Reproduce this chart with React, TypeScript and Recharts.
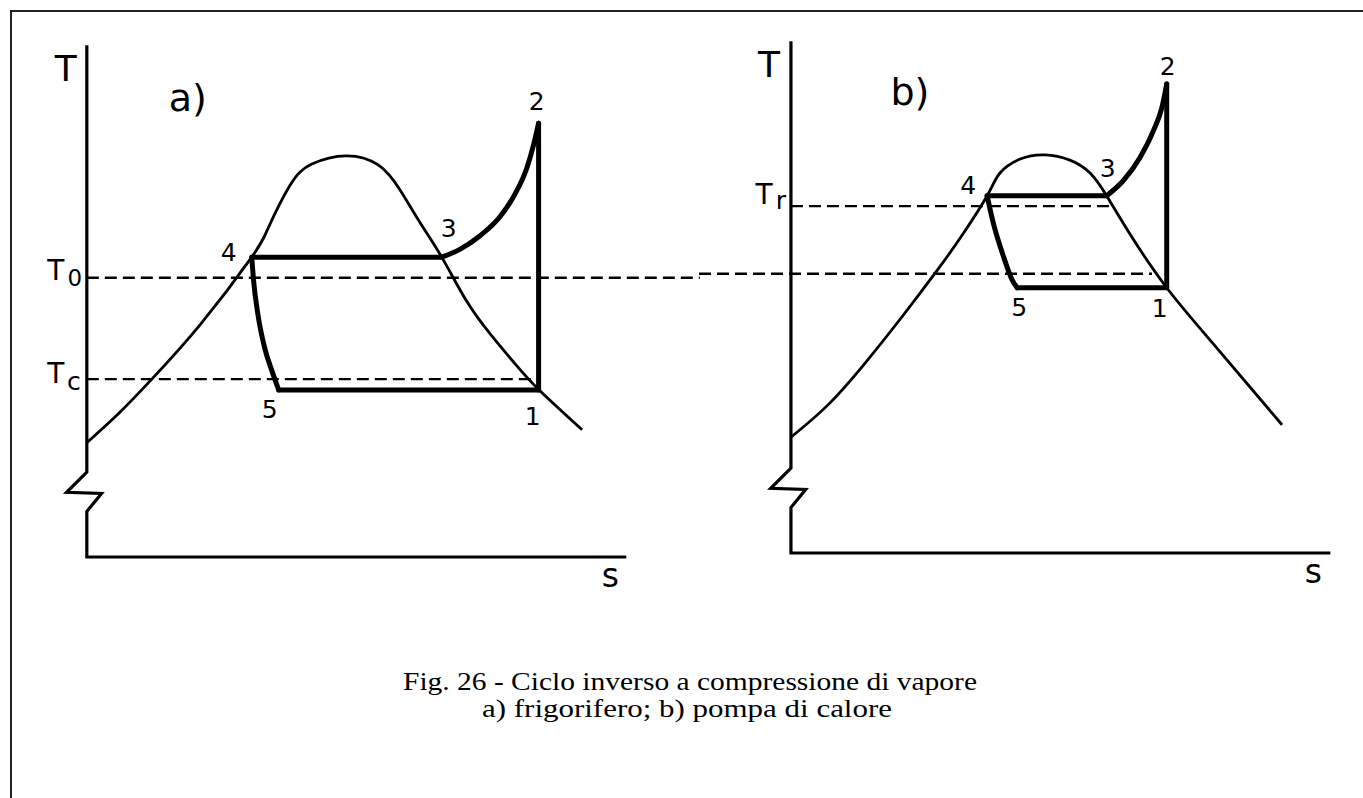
import React from 'react';
import { LineChart, Line, XAxis, YAxis, ReferenceDot } from 'recharts';

type Pt = { s: number; T: number };
type State = { n: string; s: number; T: number };

const pts = (rows: number[][]): Pt[] => rows.map(([s, T]) => ({ s, T }));

// both diagrams use one scale: pixels per unit of entropy s and of temperature T
const PX_S = 6.13;
const PX_T = 5.17;
const T_MIN = -10;
const T_MAX = 100;

// T and s axes as one polyline, with the break mark on the T axis
const axisFrame = pts([[0, 99], [0, 16.4], [-3.3, 12.5], [2.4, 12.3], [0, 8.8], [0, 0], [88, 0]]);

// ambient temperature, shared by the two cycles
const T0 = 54;

// a) frigorifero
const domeA = pts([
  [0, 22.1], [5.4, 28.0], [10.6, 34.4], [18.6, 45.1], [26.9, 58.0], [29.5, 63.4], [33.1, 71.8],
  [36.7, 76.0], [42.3, 77.6], [47.6, 75.8], [51.1, 71.0], [54.3, 64.8], [57.9, 58.0],
  [61.9, 49.6], [65.9, 43.0], [69.9, 37.3], [73.7, 32.4], [80.8, 24.6],
]);
const statesA: State[] = [
  { n: '1', s: 73.7, T: 32.3 },
  { n: '2', s: 73.7, T: 83.9 },
  { n: '3', s: 57.9, T: 58.0 },
  { n: '4', s: 26.9, T: 58.0 },
  { n: '5', s: 31.3, T: 32.3 },
];
const superheatA = pts([[60.85, 59.5], [64.1, 62.1], [67.4, 65.8], [69.8, 70.1], [71.8, 75.3], [72.9, 79.8]]);
const throttleA = pts([[27.2, 53.5], [27.9, 47.0], [29.0, 40.5], [30.2, 36.0]]);
const TcA = 34.4;
const TcEndA = 72.6;

// b) pompa di calore
const domeB = pts([
  [0, 22.4], [6, 28.6], [12, 36.6], [18, 45.5], [24, 54.9], [28, 61.6], [32.0, 69.1],
  [34.1, 73.5], [37.4, 76.2], [41.4, 77.0], [45.5, 76.0], [48.8, 73.5], [51.5, 69.1],
  [55.3, 61.7], [61.3, 51.3], [68.8, 40.6], [80.1, 24.8],
]);
const statesB: State[] = [
  { n: '1', s: 61.3, T: 51.3 },
  { n: '2', s: 61.3, T: 90.7 },
  { n: '3', s: 51.5, T: 69.1 },
  { n: '4', s: 32.0, T: 69.1 },
  { n: '5', s: 36.9, T: 51.3 },
];
const superheatB = pts([[54.2, 72.0], [56.9, 76.4], [59.1, 81.6], [60.5, 86.1]]);
const throttleB = pts([[33.1, 63.4], [34.6, 57.6], [36.1, 52.8]]);
const TrB = 67.1;
const TrEndB = 52.0;
const T0EndB = 58.9;

const at = (st: State[], n: string): Pt => {
  const p = st.find((q) => q.n === n)!;
  return { s: p.s, T: p.T };
};

// the five legs of the cycle, built from the state points
const cycleLegs = (st: State[], superheat: Pt[], throttle: Pt[]) => [
  { id: 'compressione', type: 'linear', data: [at(st, '1'), at(st, '2')] },
  { id: 'desurriscaldamento', type: 'monotone', data: [at(st, '3'), ...superheat, at(st, '2')] },
  { id: 'condensazione', type: 'linear', data: [at(st, '4'), at(st, '3')] },
  { id: 'laminazione', type: 'monotone', data: [at(st, '4'), ...throttle, at(st, '5')] },
  { id: 'evaporazione', type: 'linear', data: [at(st, '5'), at(st, '1')] },
];

const FONT = "'DejaVu Sans', sans-serif";
const SERIF = "'Liberation Serif', 'Times New Roman', serif";

const tag = (key: string, p: Pt, text: string, dx: number, dy: number, size: number) => (
  <ReferenceDot
    key={key}
    x={p.s}
    y={p.T}
    r={0}
    shape={(props: any) => (
      <text x={props.cx + dx} y={props.cy + dy} fontSize={size} fontFamily={FONT} textAnchor="middle" fill="#000">
        {text}
      </text>
    )}
  />
);

interface PanelProps {
  originX: number;
  originY: number;
  sMin: number;
  sMax: number;
  dome: Pt[];
  states: State[];
  superheat: Pt[];
  throttle: Pt[];
  dashed: Pt[][];
  children?: React.ReactNode;
}

const Panel: React.FC<PanelProps> = ({ originX, originY, sMin, sMax, dome, states, superheat, throttle, dashed, children }) => {
  const width = (sMax - sMin) * PX_S;
  const height = (T_MAX - T_MIN) * PX_T;
  return (
    <div style={{ position: 'absolute', left: originX + sMin * PX_S, top: originY - T_MAX * PX_T }}>
      <LineChart width={width} height={height} margin={{ top: 0, right: 0, bottom: 0, left: 0 }}>
        <XAxis type="number" dataKey="s" domain={[sMin, sMax]} hide />
        <YAxis type="number" dataKey="T" domain={[T_MIN, T_MAX]} hide />
        <Line data={axisFrame} dataKey="T" type="linear" stroke="#000" strokeWidth={3.2}
          dot={false} activeDot={false} isAnimationActive={false} />
        {dashed.map((d, i) => (
          <Line key={`dash${i}`} data={d} dataKey="T" type="linear" stroke="#000" strokeWidth={2.4}
            strokeDasharray="12 6" dot={false} activeDot={false} isAnimationActive={false} />
        ))}
        <Line data={dome} dataKey="T" type="natural" stroke="#000" strokeWidth={2.8}
          dot={false} activeDot={false} isAnimationActive={false} />
        {cycleLegs(states, superheat, throttle).map((leg) => (
          <Line key={leg.id} data={leg.data} dataKey="T" type={leg.type as any} stroke="#000" strokeWidth={5}
            strokeLinecap="round" strokeLinejoin="round" dot={false} activeDot={false} isAnimationActive={false} />
        ))}
        {children}
      </LineChart>
    </div>
  );
};

const stateTags = (st: State[], offs: Record<string, [number, number]>, prefix: string) =>
  st.map((p) => tag(`${prefix}${p.n}`, p, p.n, offs[p.n][0], offs[p.n][1], 25));

const axisTop = axisFrame[0];
const axisEnd = axisFrame[axisFrame.length - 1];

export default function App() {
  return (
    <div style={{ position: 'absolute', left: 0, top: 0, width: 1363, height: 798, background: '#fff', overflow: 'hidden' }}>
      <div style={{ position: 'absolute', left: 10, top: 10, width: 1353, height: 788, borderTop: '2px solid #222', borderLeft: '2px solid #222', boxSizing: 'border-box' }} />

      <Panel originX={87} originY={557} sMin={-14} sMax={100} dome={domeA} states={statesA}
        superheat={superheatA} throttle={throttleA}
        dashed={[pts([[0, T0], [100, T0]]), pts([[0, TcA], [TcEndA, TcA]])]}>
        {tag('Ta', axisTop, 'T', -21, 36, 36)}
        {tag('a', axisTop, 'a)', 101, 66, 38)}
        {tag('sa', axisEnd, 's', -16, 30, 33)}
        {tag('T0', { s: 0, T: T0 }, 'T', -31, 2, 28)}
        {tag('T0sub', { s: 0, T: T0 }, '0', -12, 8, 23)}
        {tag('Tc', { s: 0, T: TcA }, 'T', -31, 4, 28)}
        {tag('Tcsub', { s: 0, T: TcA }, 'c', -13, 11, 25)}
        {stateTags(statesA, { 1: [-6, 35], 2: [-2, -13], 3: [7, -20], 4: [-23, 4], 5: [-9, 28] }, 'A')}
      </Panel>

      <Panel originX={791} originY={553} sMin={-15} sMax={93} dome={domeB} states={statesB}
        superheat={superheatB} throttle={throttleB}
        dashed={[pts([[-15, T0], [T0EndB, T0]]), pts([[0, TrB], [TrEndB, TrB]])]}>
        {tag('Tb', axisTop, 'T', -22, 36, 36)}
        {tag('b', axisTop, 'b)', 119, 64, 38)}
        {tag('sb', axisEnd, 's', -17, 30, 33)}
        {tag('Tr', { s: 0, T: TrB }, 'T', -27, -2, 28)}
        {tag('Trsub', { s: 0, T: TrB }, 'r', -10, 3, 25)}
        {stateTags(statesB, { 1: [-7, 29], 2: [1, -9], 3: [1, -19], 4: [-19, -2], 5: [2, 28] }, 'B')}
      </Panel>

      <svg style={{ position: 'absolute', left: 0, top: 650 }} width={1363} height={90}>
        <text x={690} y={40} fontFamily={SERIF} fontSize={25}
          textAnchor="middle" textLength={574} lengthAdjust="spacingAndGlyphs" fill="#000">
          Fig. 26 - Ciclo inverso a compressione di vapore
        </text>
        <text x={687} y={67} fontFamily={SERIF} fontSize={25}
          textAnchor="middle" textLength={410} lengthAdjust="spacingAndGlyphs" fill="#000">
          a) frigorifero; b) pompa di calore
        </text>
      </svg>
    </div>
  );
}
